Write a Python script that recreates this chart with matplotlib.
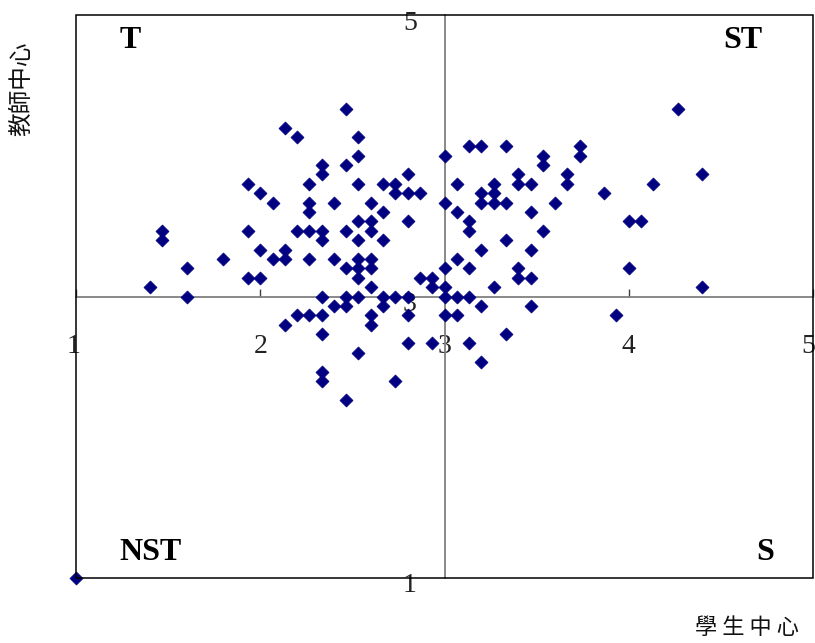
import matplotlib
matplotlib.use("Agg")
import matplotlib.pyplot as plt
from matplotlib.patches import Rectangle
from matplotlib.transforms import ScaledTranslation

# Student-centred score (x) and teacher-centred score (y) for each respondent
student_centered = [
    2.467, 4.267,
    2.133,
    2.200, 2.533,
    3.133, 3.200, 3.333, 3.733,
    2.533, 3.000, 3.533, 3.733,
    2.333, 2.467, 3.533,
    2.333, 2.800, 3.400, 3.667, 4.400,
    1.933, 2.267, 2.533, 2.667, 2.733, 3.067, 3.267, 3.400, 3.467, 3.667, 4.133,
    2.000, 2.733, 2.800, 2.867, 3.200, 3.267, 3.867,
    2.067, 2.267, 2.400, 2.600, 3.000, 3.200, 3.267, 3.333, 3.600,
    2.267, 2.667, 3.067, 3.467,
    2.533, 2.600, 2.800, 3.133, 4.000, 4.067,
    1.467, 1.933, 2.200, 2.267, 2.333, 2.467, 2.600, 3.133, 3.533,
    1.467, 2.333, 2.533, 2.667, 3.333,
    2.000, 2.133, 3.200, 3.467,
    1.800, 2.067, 2.133, 2.267, 2.400, 2.533, 2.600, 3.067,
    1.600, 2.467, 2.533, 2.600, 3.000, 3.133, 3.400, 4.000,
    1.933, 2.000, 2.533, 2.867, 2.933, 3.400, 3.467,
    1.400, 2.600, 2.933, 3.000, 3.267, 4.400,
    1.600, 2.333, 2.467, 2.533, 2.667, 2.733, 2.800, 3.000, 3.067, 3.133,
    2.400, 2.467, 2.667, 3.200, 3.467,
    2.200, 2.267, 2.333, 2.600, 2.800, 3.000, 3.067, 3.933,
    2.133, 2.600,
    2.333, 3.333,
    2.800, 2.933, 3.133,
    2.533,
    3.200,
    2.333,
    2.333, 2.733,
    2.467,
    1.000,
]
teacher_centered = [
    4.333, 4.333,
    4.200,
    4.133, 4.133,
    4.067, 4.067, 4.067, 4.067,
    4.000, 4.000, 4.000, 4.000,
    3.933, 3.933, 3.933,
    3.867, 3.867, 3.867, 3.867, 3.867,
    3.800, 3.800, 3.800, 3.800, 3.800, 3.800, 3.800, 3.800, 3.800, 3.800, 3.800,
    3.733, 3.733, 3.733, 3.733, 3.733, 3.733, 3.733,
    3.667, 3.667, 3.667, 3.667, 3.667, 3.667, 3.667, 3.667, 3.667,
    3.600, 3.600, 3.600, 3.600,
    3.533, 3.533, 3.533, 3.533, 3.533, 3.533,
    3.467, 3.467, 3.467, 3.467, 3.467, 3.467, 3.467, 3.467, 3.467,
    3.400, 3.400, 3.400, 3.400, 3.400,
    3.333, 3.333, 3.333, 3.333,
    3.267, 3.267, 3.267, 3.267, 3.267, 3.267, 3.267, 3.267,
    3.200, 3.200, 3.200, 3.200, 3.200, 3.200, 3.200, 3.200,
    3.133, 3.133, 3.133, 3.133, 3.133, 3.133, 3.133,
    3.067, 3.067, 3.067, 3.067, 3.067, 3.067,
    3.000, 3.000, 3.000, 3.000, 3.000, 3.000, 3.000, 3.000, 3.000, 3.000,
    2.933, 2.933, 2.933, 2.933, 2.933,
    2.867, 2.867, 2.867, 2.867, 2.867, 2.867, 2.867, 2.867,
    2.800, 2.800,
    2.733, 2.733,
    2.667, 2.667, 2.667,
    2.600,
    2.533,
    2.467,
    2.400, 2.400,
    2.267,
    1.000,
]

x_ticks = [1, 2, 3, 4, 5]
y_ticks = [1, 3, 5]
quadrant_labels = ["T", "ST", "NST", "S"]
x_title = "學 生 中 心"
y_title = "教師中心"

W, H = 815, 643
fig = plt.figure(figsize=(W / 100, H / 100), dpi=100)
fig.patch.set_facecolor("white")
ax = fig.add_axes([76 / W, (H - 578) / H, (813 - 76) / W, (578 - 15) / H])

ax.scatter(student_centered, teacher_centered, marker="D", s=44,
           color="#000080", edgecolors="#000080", linewidths=0.5,
           zorder=3, clip_on=False)

ax.set_xlim(1, 5)
ax.set_ylim(1, 5)

# crosshair axes through (3, 3)
for side in ("left", "bottom"):
    ax.spines[side].set_position(("data", 3))
    ax.spines[side].set_color("#808080")
    ax.spines[side].set_linewidth(1.3)
for side in ("top", "right"):
    ax.spines[side].set_visible(False)

ax.add_patch(Rectangle((0, 0), 1, 1, transform=ax.transAxes, fill=False,
                       edgecolor="black", linewidth=1.1, zorder=5,
                       clip_on=False))

serif = "Liberation Serif"
ax.set_xticks(x_ticks)
ax.set_xticklabels([str(v) for v in x_ticks], fontfamily=serif, fontsize=20)
ax.set_yticks(y_ticks)
ax.set_yticklabels([str(v) for v in y_ticks], fontfamily=serif, fontsize=20)
ax.tick_params(axis="x", direction="in", length=6, width=1, color="#404040",
               pad=27, labelcolor="#222222")
ax.tick_params(axis="y", length=0, pad=20, labelcolor="#222222")
off = ScaledTranslation(0, -5 / 100, fig.dpi_scale_trans)
for lab in ax.get_yticklabels():
    lab.set_transform(lab.get_transform() + off)
xl = ax.get_xticklabels()
xl[0].set_transform(xl[0].get_transform() + ScaledTranslation(-2 / 100, 0, fig.dpi_scale_trans))
xl[-1].set_transform(xl[-1].get_transform() + ScaledTranslation(-5 / 100, 0, fig.dpi_scale_trans))

qfont = dict(fontfamily=serif, fontsize=23, fontweight="bold", color="black",
             ha="center", va="center")
px = lambda x: (x - 76) / (813 - 76)
py = lambda y: (578 - y) / (578 - 15)
ax.text(px(130), py(41), quadrant_labels[0], transform=ax.transAxes, **qfont)
ax.text(px(743), py(41), quadrant_labels[1], transform=ax.transAxes, **qfont)
ax.text(px(150), py(552), quadrant_labels[2], transform=ax.transAxes, **qfont)
ax.text(px(765), py(552), quadrant_labels[3], transform=ax.transAxes, **qfont)

cjk = ["Noto Sans CJK TC", "DejaVu Sans"]
fig.text(22 / W, 1 - 89 / H, y_title, rotation=90, ha="center", va="center",
         fontfamily=cjk, fontsize=17, color="#111111")
fig.text(747 / W, 1 - 628 / H, x_title, ha="center", va="center",
         fontfamily=cjk, fontsize=16, color="#111111")

fig.savefig("out.png", dpi=100, facecolor="white")
